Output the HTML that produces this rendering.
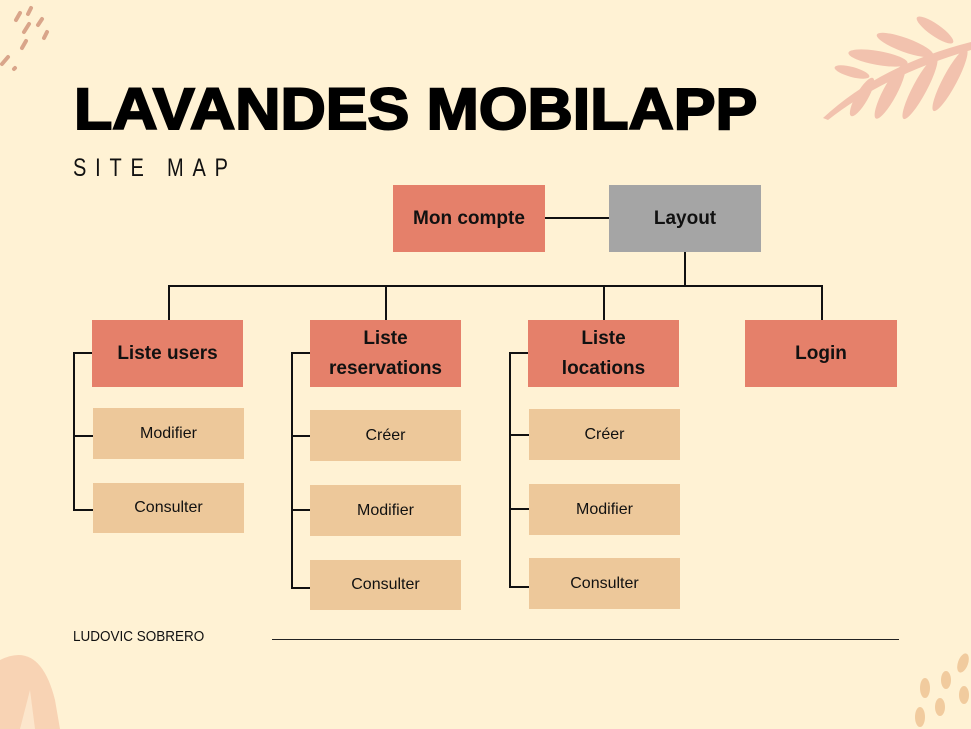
<!DOCTYPE html>
<html><head><meta charset="utf-8"><style>
html,body{margin:0;padding:0}
body{width:971px;height:729px;background:#FFF2D4;position:relative;overflow:hidden;font-family:"Liberation Sans",sans-serif;color:#111}
.b{position:absolute;display:flex;align-items:center;justify-content:center;text-align:center}
.s{background:#E5806A;font-size:19px;line-height:30px;font-weight:bold}
.t{background:#EDC89A;font-size:16px}
.g{background:#A5A5A5;font-size:19px;font-weight:bold}
.l{position:absolute;background:#111}
</style></head><body>
<svg width="971" height="729" style="position:absolute;left:0;top:0">
<g stroke="#D9A58A" stroke-width="4" stroke-linecap="round">
<line x1="16" y1="20" x2="20" y2="13"/><line x1="28" y1="14" x2="31" y2="8"/><line x1="24" y1="32" x2="29" y2="24"/><line x1="38" y1="25" x2="42" y2="19"/><line x1="22" y1="48" x2="26" y2="41"/><line x1="44" y1="38" x2="47" y2="32"/><line x1="2" y1="64" x2="8" y2="57"/><line x1="14" y1="69" x2="15" y2="68"/>
</g>
<g fill="#F2C2AE">
<path d="M823 118 Q880 65 971 42 L971 50 Q885 75 828 120Z"/>
<ellipse cx="935" cy="30" rx="22" ry="6" transform="rotate(35 935 30)"/>
<ellipse cx="905" cy="45" rx="30" ry="7" transform="rotate(20 905 45)"/>
<ellipse cx="878" cy="58" rx="30" ry="7" transform="rotate(10 878 58)"/>
<ellipse cx="852" cy="72" rx="18" ry="5" transform="rotate(15 852 72)"/>
<ellipse cx="862" cy="97" rx="22" ry="6" transform="rotate(-60 862 97)"/>
<ellipse cx="890" cy="92" rx="30" ry="7" transform="rotate(-62 890 92)"/>
<ellipse cx="920" cy="88" rx="35" ry="7" transform="rotate(-62 920 88)"/>
<ellipse cx="950" cy="80" rx="35" ry="7" transform="rotate(-62 950 80)"/>
</g>
<g fill="#F8D3B4">
<path d="M0 660 Q40 640 55 700 L60 729 L0 729Z"/>
</g>
<g fill="#FCE6CC"><path d="M20 729 L30 690 L35 729Z"/></g>
<g fill="#F1CB9E">
<ellipse cx="963" cy="663" rx="5" ry="10" transform="rotate(20 963 663)"/>
<ellipse cx="946" cy="680" rx="5" ry="9"/>
<ellipse cx="925" cy="688" rx="5" ry="10"/>
<ellipse cx="964" cy="695" rx="5" ry="9"/>
<ellipse cx="940" cy="707" rx="5" ry="9"/>
<ellipse cx="920" cy="717" rx="5" ry="10"/>
</g>
</svg>
<div style="position:absolute;left:74px;top:78px;font-size:58px;font-weight:900;line-height:64px;white-space:nowrap;transform:scaleX(1.08);transform-origin:left;-webkit-text-stroke:2px #000;color:#000">LAVANDES MOBILAPP</div>
<div style="position:absolute;left:73px;top:154px;font-size:25px;letter-spacing:11px;line-height:28px;transform:scaleX(0.8);transform-origin:left;white-space:nowrap">SITE MAP</div>

<div class="b s" style="left:393px;top:185px;width:152px;height:67px">Mon compte</div>
<div class="b g" style="left:609px;top:185px;width:152px;height:67px">Layout</div>
<div class="l" style="left:545px;top:217px;width:64px;height:2px"></div>
<div class="l" style="left:684px;top:252px;width:2px;height:35px"></div>
<div class="l" style="left:168px;top:285px;width:655px;height:2px"></div>
<div class="l" style="left:168px;top:285px;width:2px;height:35px"></div>
<div class="l" style="left:385px;top:285px;width:2px;height:35px"></div>
<div class="l" style="left:603px;top:285px;width:2px;height:35px"></div>
<div class="l" style="left:821px;top:285px;width:2px;height:35px"></div>

<div class="b s" style="left:92px;top:320px;width:151px;height:67px">Liste users</div>
<div class="b s" style="left:310px;top:320px;width:151px;height:67px">Liste<br>reservations</div>
<div class="b s" style="left:528px;top:320px;width:151px;height:67px">Liste<br>locations</div>
<div class="b s" style="left:745px;top:320px;width:152px;height:67px">Login</div>

<div class="b t" style="left:93px;top:408px;width:151px;height:51px">Modifier</div>
<div class="b t" style="left:93px;top:483px;width:151px;height:50px">Consulter</div>
<div class="l" style="left:73px;top:352px;width:2px;height:159px"></div>
<div class="l" style="left:73px;top:352px;width:19px;height:2px"></div>
<div class="l" style="left:73px;top:435px;width:20px;height:2px"></div>
<div class="l" style="left:73px;top:509px;width:20px;height:2px"></div>

<div class="b t" style="left:310px;top:410px;width:151px;height:51px">Créer</div>
<div class="b t" style="left:310px;top:485px;width:151px;height:51px">Modifier</div>
<div class="b t" style="left:310px;top:560px;width:151px;height:50px">Consulter</div>
<div class="l" style="left:291px;top:352px;width:2px;height:237px"></div>
<div class="l" style="left:291px;top:352px;width:19px;height:2px"></div>
<div class="l" style="left:291px;top:435px;width:19px;height:2px"></div>
<div class="l" style="left:291px;top:509px;width:19px;height:2px"></div>
<div class="l" style="left:291px;top:587px;width:19px;height:2px"></div>

<div class="b t" style="left:529px;top:409px;width:151px;height:51px">Créer</div>
<div class="b t" style="left:529px;top:484px;width:151px;height:51px">Modifier</div>
<div class="b t" style="left:529px;top:558px;width:151px;height:51px">Consulter</div>
<div class="l" style="left:509px;top:352px;width:2px;height:236px"></div>
<div class="l" style="left:509px;top:352px;width:19px;height:2px"></div>
<div class="l" style="left:509px;top:434px;width:20px;height:2px"></div>
<div class="l" style="left:509px;top:508px;width:20px;height:2px"></div>
<div class="l" style="left:509px;top:586px;width:20px;height:2px"></div>

<div style="position:absolute;left:73px;top:628px;font-size:15px;line-height:18px;transform:scaleX(0.9);transform-origin:left;white-space:nowrap">LUDOVIC SOBRERO</div>
<div class="l" style="left:272px;top:639px;width:627px;height:1px;background:#222"></div>
</body></html>
